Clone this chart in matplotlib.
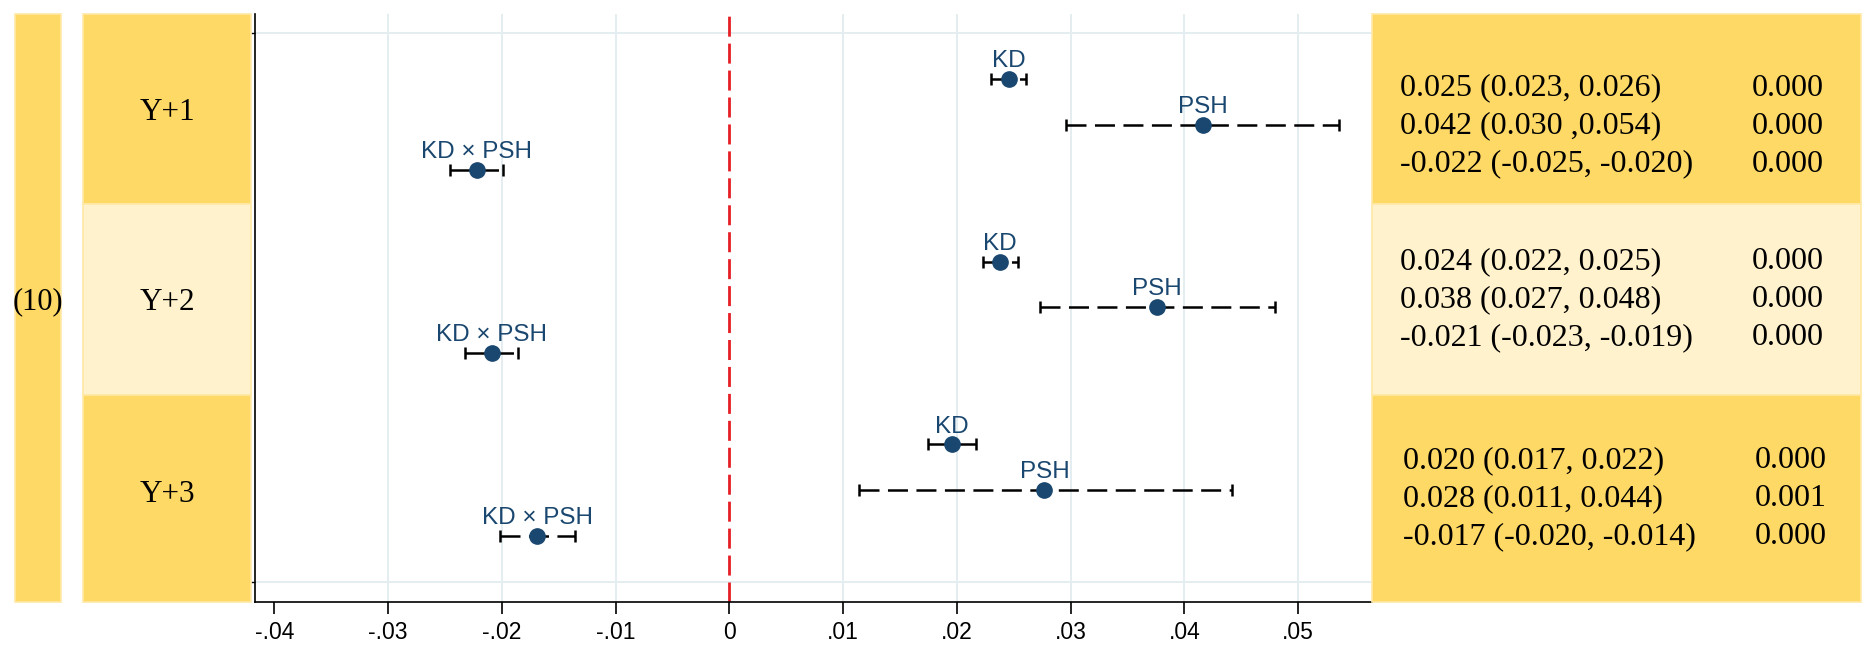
import matplotlib.pyplot as plt
from matplotlib.patches import Rectangle

plt.rcParams["lines.scale_dashes"] = False

MODEL_LABEL = "(10)"
HORIZONS = ["Y+1", "Y+2", "Y+3"]
TERMS = ["KD", "PSH", "KD × PSH"]

# point estimates and 95% CI bounds, ordered Y+1, Y+2, Y+3
KD_EST = [0.0246, 0.0238, 0.0196]
KD_LO = [0.0230, 0.0223, 0.0175]
KD_HI = [0.0261, 0.0254, 0.0217]

PSH_EST = [0.0416, 0.0376, 0.0277]
PSH_LO = [0.0296, 0.0273, 0.0114]
PSH_HI = [0.0536, 0.0480, 0.0442]

INT_EST = [-0.0222, -0.0209, -0.0169]
INT_LO = [-0.0246, -0.0232, -0.0202]
INT_HI = [-0.0199, -0.0186, -0.0136]

CI_TEXT = [
    ["0.025 (0.023, 0.026)", "0.042 (0.030 ,0.054)", "-0.022 (-0.025, -0.020)"],
    ["0.024 (0.022, 0.025)", "0.038 (0.027, 0.048)", "-0.021 (-0.023, -0.019)"],
    ["0.020 (0.017, 0.022)", "0.028 (0.011, 0.044)", "-0.017 (-0.020, -0.014)"],
]
P_TEXT = [
    ["0.000", "0.000", "0.000"],
    ["0.000", "0.000", "0.000"],
    ["0.000", "0.001", "0.000"],
]

XTICKS = [-0.04, -0.03, -0.02, -0.01, 0, 0.01, 0.02, 0.03, 0.04, 0.05]
XTICK_LABELS = ["-.04", "-.03", "-.02", "-.01", "0", ".01", ".02", ".03", ".04", ".05"]

GOLD = "#FFD966"
LIGHT = "#FFF2CC"
EDGE = "#FFE9A6"
NAVY = "#1A476F"
GRID = "#E4EEF1"
RED = "#E61E26"

SANS = "Liberation Sans"
SERIF = "Liberation Serif"

# figure layout in pixels (figure is 1874 x 651)
W, H = 1874, 651
AX_LEFT, AX_RIGHT, AX_TOP, AX_BOTTOM = 255, 1372, 14, 601.7
ROW_EDGES = [14, 203.5, 395, 601.7]
ROW_COLORS = [GOLD, LIGHT, GOLD]
LABEL_Y = [112, 303, 494]
TABLE_MID_BASELINE = [133.7, 307.2, 506.4]
TABLE_X = [(1400, 1752), (1400, 1752), (1403, 1755)]
LINE_STEP = 38


def main():
    fig = plt.figure(figsize=(W / 100, H / 100), dpi=100)
    ax = fig.add_axes([AX_LEFT / W, 1 - AX_BOTTOM / H,
                       (AX_RIGHT - AX_LEFT) / W, (AX_BOTTOM - AX_TOP) / H])

    ax.set_xlim(-0.0417, 0.0565)
    ax.set_ylim(12.44, -0.42)

    # vertical grid (Stata skips the line sitting next to the axis)
    for tick in XTICKS[1:]:
        if tick != 0:
            ax.axvline(tick, color=GRID, lw=1.4, zorder=0)
    for ytick in (0, 12):
        ax.axhline(ytick, color=GRID, lw=1.4, zorder=0)

    ax.axvline(0, color=RED, lw=2.0, linestyle=(0, (14.4, 5)), zorder=1)

    series = [
        (KD_EST, KD_LO, KD_HI),
        (PSH_EST, PSH_LO, PSH_HI),
        (INT_EST, INT_LO, INT_HI),
    ]
    for t, (est, lo, hi) in enumerate(series):
        ypos = [4 * g + t + 1 for g in range(len(est))]
        xerr = [[e - l for e, l in zip(est, lo)], [h - e for e, h in zip(est, hi)]]
        _, _, bars = ax.errorbar(
            est, ypos, xerr=xerr, fmt="o", color=NAVY, markersize=11,
            ecolor="black", elinewidth=1.8, capsize=4.3, capthick=1.8, zorder=3,
        )
        bars[0].set_linestyle((0, (14.4, 6.1)))
        for x, y in zip(est, ypos):
            ax.annotate(TERMS[t], (x, y), xytext=(0, 8.6), textcoords="offset points",
                        ha="center", va="baseline", fontsize=17.5, color=NAVY,
                        family=SANS)

    for side in ("top", "right"):
        ax.spines[side].set_visible(False)
    for side in ("left", "bottom"):
        ax.spines[side].set_linewidth(1.2)

    ax.set_xticks(XTICKS)
    ax.set_xticklabels(XTICK_LABELS, fontsize=16.5, family=SANS)
    ax.tick_params(axis="x", length=8.6, width=1.2, pad=5.5)
    ax.set_yticks([0, 12])
    ax.set_yticklabels([])
    ax.tick_params(axis="y", length=3, width=1.0)

    # label strips and result table drawn in pixel coordinates
    panel = fig.add_axes([0, 0, 1, 1], zorder=3)
    panel.set_xlim(0, W)
    panel.set_ylim(H, 0)
    panel.axis("off")

    panel.add_patch(Rectangle((15, ROW_EDGES[0]), 46, ROW_EDGES[-1] - ROW_EDGES[0],
                              fc=GOLD, ec=EDGE, lw=1.2))
    panel.text(38, 302, MODEL_LABEL, ha="center", va="center", fontsize=22,
               family=SERIF)

    for r in range(len(HORIZONS)):
        top, bottom = ROW_EDGES[r], ROW_EDGES[r + 1]
        panel.add_patch(Rectangle((83.3, top), 167.4, bottom - top,
                                  fc=ROW_COLORS[r], ec=EDGE, lw=1.2))
        panel.add_patch(Rectangle((1372, top), 489, bottom - top,
                                  fc=ROW_COLORS[r], ec=EDGE, lw=1.2))
        panel.text(167, LABEL_Y[r], HORIZONS[r], ha="center", va="center",
                   fontsize=22.5, family=SERIF)
        x_ci, x_p = TABLE_X[r]
        for i in range(3):
            y = TABLE_MID_BASELINE[r] + (i - 1) * LINE_STEP
            panel.text(x_ci, y, CI_TEXT[r][i], ha="left", va="baseline",
                       fontsize=23, family=SERIF)
            panel.text(x_p, y, P_TEXT[r][i], ha="left", va="baseline",
                       fontsize=23, family=SERIF)

    fig.savefig("out.png", dpi=100)
    plt.close(fig)


if __name__ == "__main__":
    main()
